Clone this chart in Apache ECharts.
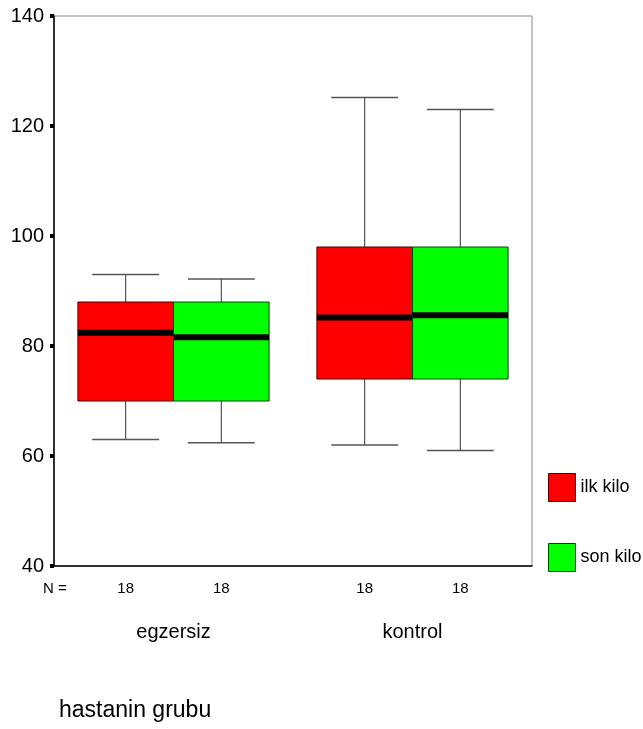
<!DOCTYPE html>
<html>
<head>
<meta charset="utf-8">
<script src="https://cdn.jsdelivr.net/npm/echarts@6/dist/echarts.min.js"></script>
<style>
  html, body { margin: 0; padding: 0; background: #fff; }
  #chart { width: 643px; height: 729px; }
</style>
</head>
<body>
<div id="chart"></div>
<script>
// Groups on the x axis
const categories = ['egzersiz', 'kontrol'];
// Five-number summaries per group: [min, Q1, median, Q3, max]
const ilkKilo = [
  [63.0, 70.0, 82.4, 88.0, 93.0],
  [62.0, 74.0, 85.2, 98.0, 125.2]
];
const sonKilo = [
  [62.4, 70.0, 81.6, 88.0, 92.2],
  [61.0, 74.0, 85.6, 98.0, 123.0]
];
// Valid cases per box
const ilkN = [18, 18];
const sonN = [18, 18];
// Value axis
const yMin = 40, yMax = 140, yStep = 20;

const FONT = "'Liberation Sans Narrow', 'Arial Narrow', 'Liberation Sans', sans-serif";

function rows(stats, counts) {
  return stats.map((s, i) => [i, s[0], s[1], s[2], s[3], s[4], counts[i]]);
}

function makeRenderer(side, fill, border) {
  return function (params, api) {
    const cat = api.value(0);
    const lo = api.value(1), q1 = api.value(2), med = api.value(3),
          q3 = api.value(4), hi = api.value(5), n = api.value(6);
    const band = api.size([1, 0])[0];
    const w = band * 0.4;
    const cx = api.coord([cat, med])[0] + side * w / 2;
    const y = v => api.coord([cat, v])[1];
    const base = api.coord([cat, yMin])[1];
    const cap = w * 0.7;
    const whisker = { stroke: '#333', lineWidth: 1 };
    const capStyle = { stroke: '#555', lineWidth: 1.5 };
    return {
      type: 'group',
      children: [
        { type: 'line', shape: { x1: cx, y1: y(hi), x2: cx, y2: y(q3) }, style: whisker },
        { type: 'line', shape: { x1: cx, y1: y(q1), x2: cx, y2: y(lo) }, style: whisker },
        { type: 'line', shape: { x1: cx - cap / 2, y1: y(hi), x2: cx + cap / 2, y2: y(hi) }, style: capStyle },
        { type: 'line', shape: { x1: cx - cap / 2, y1: y(lo), x2: cx + cap / 2, y2: y(lo) }, style: capStyle },
        { type: 'rect', shape: { x: cx - w / 2, y: y(q3), width: w, height: y(q1) - y(q3) },
          style: { fill: fill, stroke: border, lineWidth: 1 } },
        { type: 'rect', shape: { x: cx - w / 2, y: y(med) - 3, width: w, height: 6 },
          style: { fill: '#000' } },
        { type: 'text', x: cx, y: base + 23,
          style: { text: String(n), fill: '#000', font: '15px ' + FONT, align: 'center', verticalAlign: 'middle' } }
      ]
    };
  };
}

const chart = echarts.init(document.getElementById('chart'), null, { renderer: 'canvas' });
chart.setOption({
  backgroundColor: '#fff',
  animation: false,
  grid: { left: 54, right: 111, top: 16, bottom: 163, show: true, borderColor: '#888', borderWidth: 1, backgroundColor: 'transparent' },
  title: {
    text: 'hastanin grubu', left: 54, top: 694,
    textStyle: { fontFamily: FONT, fontSize: 23, fontWeight: 'normal', color: '#000' }
  },
  legend: {
    orient: 'vertical', left: 543, top: 468, itemWidth: 27, itemHeight: 28, itemGap: 41,
    textStyle: { fontFamily: FONT, fontSize: 18, color: '#000' },
    data: [
      { name: 'ilk kilo', icon: 'rect', itemStyle: { color: '#ff0000', borderColor: '#4a0000', borderWidth: 1 } },
      { name: 'son kilo', icon: 'rect', itemStyle: { color: '#00ff00', borderColor: '#004a00', borderWidth: 1 } }
    ]
  },
  graphic: [
    { type: 'text', left: 43, top: 581, style: { text: 'N =', font: '15px ' + FONT, fill: '#000' } }
  ],
  xAxis: {
    type: 'category', data: categories, boundaryGap: true,
    axisLine: { lineStyle: { color: '#000', width: 1.5 } },
    axisTick: { alignWithLabel: true, length: 4, lineStyle: { color: '#000', width: 4 } },
    axisLabel: { margin: 56, fontFamily: FONT, fontSize: 20, color: '#000' },
    splitLine: { show: false }
  },
  yAxis: {
    type: 'value', min: yMin, max: yMax, interval: yStep,
    axisLine: { show: true, lineStyle: { color: '#000', width: 1.5 } },
    axisTick: { show: true, length: 4, lineStyle: { color: '#000', width: 4 } },
    axisLabel: { margin: 10, fontFamily: FONT, fontSize: 20, color: '#000' },
    splitLine: { show: false }
  },
  series: [
    { name: 'ilk kilo', type: 'custom', renderItem: makeRenderer(-1, '#ff0000', '#4a0000'),
      itemStyle: { color: '#ff0000' }, encode: { x: 0, y: [1, 2, 3, 4, 5] }, data: rows(ilkKilo, ilkN) },
    { name: 'son kilo', type: 'custom', renderItem: makeRenderer(1, '#00ff00', '#004a00'),
      itemStyle: { color: '#00ff00' }, encode: { x: 0, y: [1, 2, 3, 4, 5] }, data: rows(sonKilo, sonN) }
  ]
});
</script>
</body>
</html>
